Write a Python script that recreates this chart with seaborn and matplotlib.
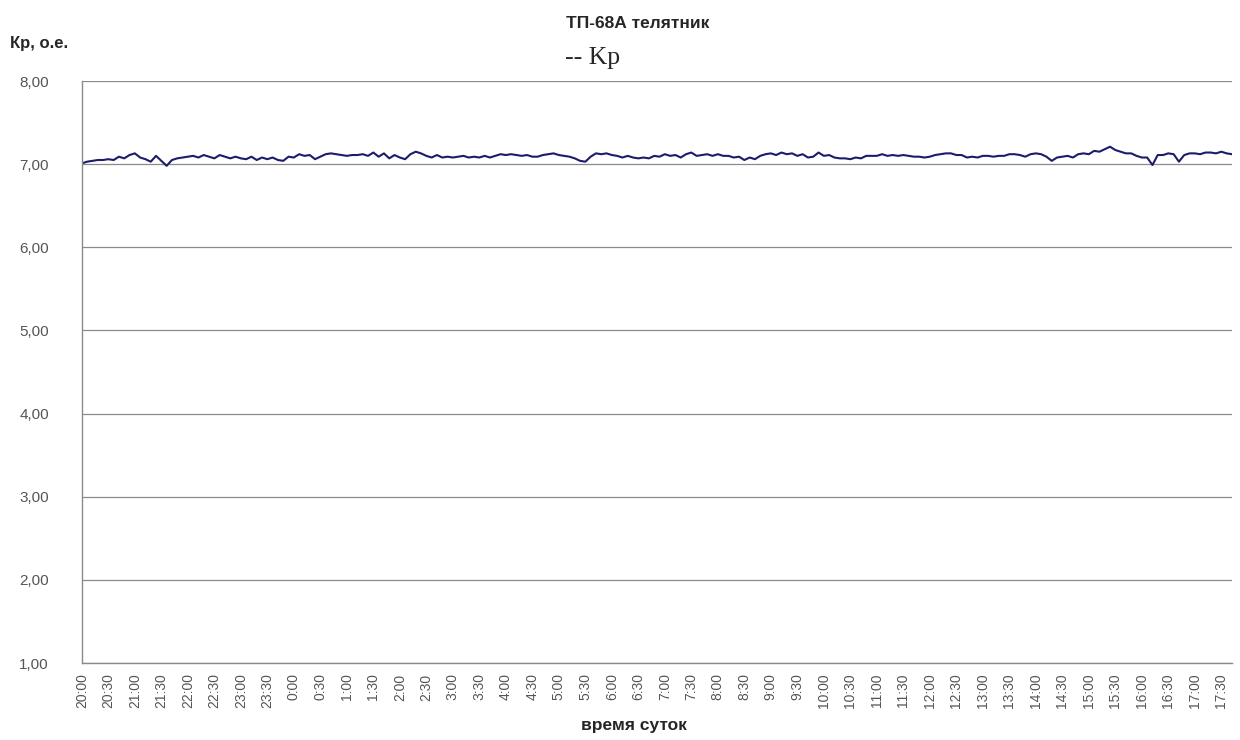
import numpy as np
import pandas as pd
import matplotlib
matplotlib.use("Agg")
import matplotlib.pyplot as plt
import seaborn as sns

# sample step, minutes from 20:00
STEP_MIN = 6

kp_values = [
    7.01, 7.03, 7.04, 7.05, 7.05, 7.06, 7.05, 7.09, 7.07, 7.11,
    7.13, 7.08, 7.06, 7.03, 7.10, 7.04, 6.98, 7.05, 7.07, 7.08,
    7.09, 7.10, 7.08, 7.11, 7.09, 7.07, 7.11, 7.09, 7.07, 7.09,
    7.07, 7.06, 7.09, 7.05, 7.08, 7.06, 7.08, 7.05, 7.04, 7.09,
    7.08, 7.12, 7.10, 7.11,
    7.06, 7.09, 7.12, 7.13, 7.12, 7.11, 7.10, 7.11, 7.11, 7.12,
    7.10, 7.14, 7.09, 7.13, 7.07, 7.11, 7.08, 7.06, 7.12, 7.15,
    7.13, 7.10, 7.08, 7.11, 7.08, 7.09, 7.08, 7.09, 7.10, 7.08,
    7.09, 7.08, 7.10, 7.08, 7.10, 7.12, 7.11, 7.12, 7.11, 7.10,
    7.11, 7.09, 7.09,
    7.11, 7.12, 7.13, 7.11, 7.10, 7.09, 7.07, 7.04, 7.03, 7.09,
    7.13, 7.12, 7.13, 7.11, 7.10, 7.08, 7.10, 7.08, 7.07, 7.08,
    7.07, 7.10, 7.09, 7.12, 7.10, 7.11, 7.08, 7.12, 7.14, 7.10,
    7.11, 7.12, 7.10, 7.12, 7.10, 7.10, 7.08, 7.09, 7.05, 7.08,
    7.06, 7.10, 7.12, 7.13,
    7.11, 7.14, 7.12, 7.13, 7.10, 7.12, 7.08, 7.09, 7.14, 7.10,
    7.11, 7.08, 7.07, 7.07, 7.06, 7.08, 7.07, 7.10, 7.10, 7.10,
    7.12, 7.10, 7.11, 7.10, 7.11, 7.10, 7.09, 7.09, 7.08, 7.09,
    7.11, 7.12, 7.13, 7.13, 7.11, 7.11, 7.08, 7.09, 7.08, 7.10,
    7.10, 7.09, 7.10,
    7.10, 7.12, 7.12, 7.11, 7.09, 7.12, 7.13, 7.12, 7.09, 7.04,
    7.08, 7.09, 7.10, 7.08, 7.12, 7.13, 7.12, 7.16, 7.15, 7.18,
    7.21, 7.17, 7.15, 7.13, 7.13, 7.10, 7.08, 7.08, 6.99, 7.11,
    7.11, 7.13, 7.12, 7.03, 7.11, 7.13, 7.13, 7.12, 7.14, 7.14,
    7.13, 7.15, 7.13, 7.12,
]

time_labels = [
    "20:00", "20:30", "21:00", "21:30", "22:00", "22:30", "23:00", "23:30",
    "0:00", "0:30", "1:00", "1:30", "2:00", "2:30", "3:00", "3:30",
    "4:00", "4:30", "5:00", "5:30", "6:00", "6:30", "7:00", "7:30",
    "8:00", "8:30", "9:00", "9:30", "10:00", "10:30", "11:00", "11:30",
    "12:00", "12:30", "13:00", "13:30", "14:00", "14:30", "15:00", "15:30",
    "16:00", "16:30", "17:00", "17:30",
]

y_ticks = [1, 2, 3, 4, 5, 6, 7, 8]

df = pd.DataFrame({
    "minutes": np.arange(len(kp_values)) * STEP_MIN,
    "Kp": kp_values,
})

sns.set_style("white")
plt.rcParams["font.family"] = ["Liberation Sans", "DejaVu Sans"]

fig = plt.figure(figsize=(12.4, 7.4), dpi=100)
ax = fig.add_axes([0.066, 0.104, 0.9275, 0.7865])

sns.lineplot(data=df, x="minutes", y="Kp", ax=ax, color="#1c1c6b",
             linewidth=1.5, legend=False)

ax.set_xlim(0, (len(kp_values) - 1) * STEP_MIN)
ax.set_ylim(1, 8)
ax.set_yticks(y_ticks)
ax.set_yticklabels([f"{v:.2f}".replace(".", ",") for v in y_ticks],
                   fontsize=11, color="#555555")
ax.set_xticks(np.arange(len(time_labels)) * 30)
ax.set_xticklabels(time_labels, rotation=90, fontsize=10, color="#555555")

ax.grid(axis="y", color="#8a8a8a", linewidth=0.9)
ax.grid(axis="x", visible=False)
for side in ["top", "right"]:
    ax.spines[side].set_visible(False)
for side in ["left", "bottom"]:
    ax.spines[side].set_color("#8a8a8a")
    ax.spines[side].set_linewidth(1.0)
ax.tick_params(axis="x", direction="inout", length=9, width=0.9,
               color="#8a8a8a", pad=3)
ax.tick_params(axis="y", direction="out", length=5, width=0.9,
               color="#8a8a8a", pad=40)
for lbl in ax.get_yticklabels():
    lbl.set_horizontalalignment("left")
ax.set_xlabel("")
ax.set_ylabel("")

fig.text(0.514, 0.968, "ТП-68А телятник", ha="center", va="center",
         fontsize=12.5, fontweight="bold")
fig.text(0.008, 0.941, "Кр, о.е.", ha="left", va="center",
         fontsize=12, fontweight="bold")
fig.text(0.456, 0.921, "-- Kp", ha="left", va="center",
         fontsize=18.5, family=["Liberation Serif", "DejaVu Serif"])
fig.text(0.511, 0.019, "время суток", ha="center", va="center",
         fontsize=12.5, fontweight="bold")

fig.savefig("out.png", dpi=100)
